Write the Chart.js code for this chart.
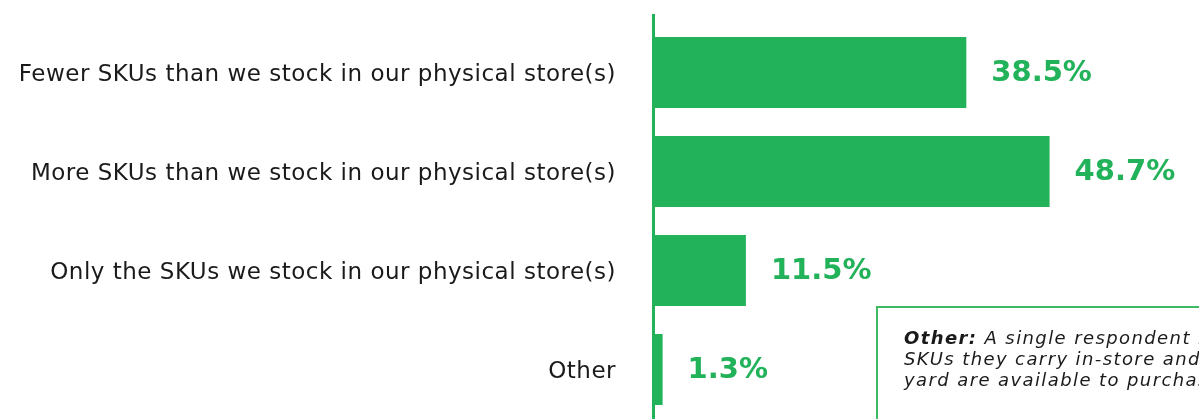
<!DOCTYPE html>
<html><head><meta charset="utf-8">
<script src="https://cdn.jsdelivr.net/npm/chart.js@4.4.1/dist/chart.umd.min.js"></script>
<style>
html,body{margin:0;padding:0;background:#fff;overflow:hidden}
#wrap{position:relative;width:1199px;height:419px;overflow:hidden}
#note{position:absolute;left:876px;top:306px;width:420px;height:200px;border:2px solid #3dba63;box-sizing:border-box;padding:19px 0 0 26px;font-family:'DejaVu Sans',sans-serif;font-style:italic;font-size:18px;line-height:21px;letter-spacing:1.4px;color:#1a1a1a;white-space:nowrap}
#note b{font-weight:700}
</style></head>
<body><div id="wrap"><canvas id="c" width="1199" height="419"></canvas>
<div id="note"><b>Other:</b> A single respondent noted that the<br>SKUs they carry in-store and in the<br>yard are available to purchase online.</div></div>
<script>
const categories = [
  'Fewer SKUs than we stock in our physical store(s)',
  'More SKUs than we stock in our physical store(s)',
  'Only the SKUs we stock in our physical store(s)',
  'Other'
];
const values = [38.5, 48.7, 11.5, 1.3];
const valueLabels = ['38.5%', '48.7%', '11.5%', '1.3%'];
const xMax = 67;

const GREEN = '#22b25a';

const spacingPlugin = {
  id: 'spacing',
  beforeDraw(chart) { chart.ctx.letterSpacing = '0.5px'; }
};

const valueLabelPlugin = {
  id: 'valueLabels',
  afterDatasetsDraw(chart) {
    const ctx = chart.ctx;
    const meta = chart.getDatasetMeta(0);
    ctx.save();
    ctx.letterSpacing = '0px';
    ctx.font = 'bold 29px "DejaVu Sans"';
    ctx.fillStyle = GREEN;
    ctx.textAlign = 'left';
    ctx.textBaseline = 'middle';
    meta.data.forEach((bar, i) => {
      ctx.fillText(valueLabels[i], bar.x + 25, bar.y + 1);
    });
    ctx.restore();
  }
};

const axisLinePlugin = {
  id: 'axisLine',
  afterDatasetsDraw(chart) {
    const ctx = chart.ctx;
    const x = chart.chartArea.left + 1.5;
    ctx.save();
    ctx.strokeStyle = GREEN;
    ctx.lineWidth = 3;
    ctx.beginPath();
    ctx.moveTo(x, 14);
    ctx.lineTo(x, chart.height);
    ctx.stroke();
    ctx.restore();
  }
};

new Chart(document.getElementById('c'), {
  type: 'bar',
  data: {
    labels: categories,
    datasets: [{
      data: values,
      backgroundColor: GREEN,
      borderWidth: 0,
      categoryPercentage: 1,
      barPercentage: 0.717
    }]
  },
  options: {
    indexAxis: 'y',
    responsive: false,
    animation: false,
    layout: { padding: { top: 23, bottom: 0, left: 0, right: 0 } },
    plugins: { legend: { display: false }, tooltip: { enabled: false } },
    scales: {
      x: { display: false, min: 0, max: xMax },
      y: {
        grid: { display: false, drawTicks: false },
        border: { display: false },
        ticks: {
          color: '#1a1a1a',
          font: { family: 'DejaVu Sans', size: 23 },
          padding: 36,
          labelOffset: 3
        },
        afterFit(axis) { axis.width = 652; axis.paddingTop = 0; axis.paddingBottom = 0; }
      }
    }
  },
  plugins: [spacingPlugin, valueLabelPlugin, axisLinePlugin]
});
</script>
</body></html>
